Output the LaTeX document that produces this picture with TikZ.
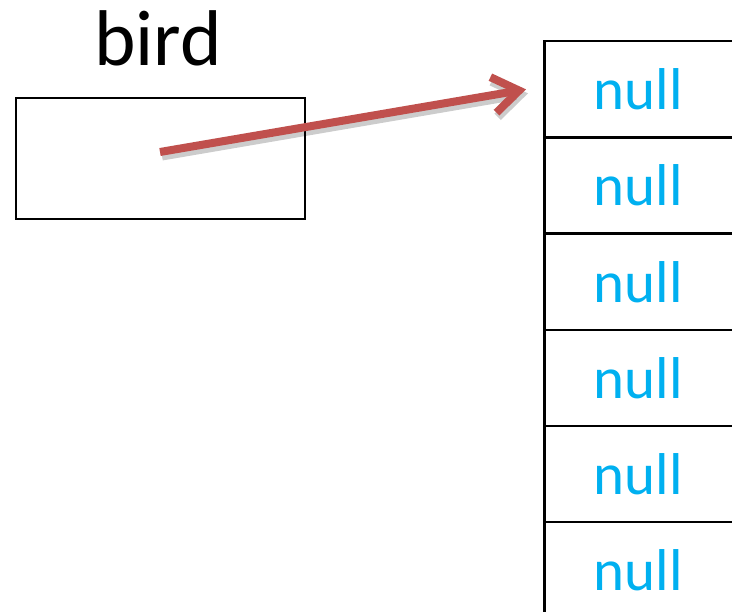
\documentclass[tikz,border=0pt]{standalone}
\usepackage{fontspec}
\setmainfont{Carlito}
\usetikzlibrary{arrows.meta}
\definecolor{nullblue}{HTML}{00B0F0}
\definecolor{arrowred}{HTML}{C0504D}
\tikzset{
  varbox/.style={draw=black, line width=2.3pt, minimum width=289pt, minimum height=121pt, inner sep=0pt, anchor=north west},
  cell/.style={draw=black, line width=2.5pt, minimum width=220pt, minimum height=96.2pt, inner sep=0pt, anchor=north west},
  nulltext/.style={text=nullblue, font=\fontsize{59}{59}\selectfont, inner sep=0pt},
  labeltext/.style={font=\fontsize{79}{79}\selectfont, inner sep=0pt},
  refarrow/.style={draw=arrowred, line width=8pt, -{Straight Barb[length=26pt, width=36pt, line width=8pt]}},
  refshadow/.style={draw=black, opacity=0.2, line width=9pt, -{Straight Barb[length=26pt, width=36pt, line width=9pt]}}
}
\begin{document}
\begin{tikzpicture}[x=1pt, y=-1pt]
\path[use as bounding box, clip] (0,0) rectangle (732,612);
\fill[white] (0,0) rectangle (732,612);
\node[labeltext] (lbl) at (158,38) {bird};
\node[varbox] (bird) at (15,97) {};
\foreach \k in {0,...,5} {
  \node[cell] (c\k) at (543,{40+96.2*\k}) {};
  \node[nulltext] (n\k) at ([xshift=-16pt]c\k.center) {null};
}
\coordinate (s) at (160,152);
\coordinate (t) at ([xshift=-17pt]c0.west);
\coordinate (ss) at ([xshift=2pt,yshift=-4pt]s);
\coordinate (ts) at ([xshift=2pt,yshift=-4pt]t);
\draw[refshadow] (ss) -- (ts);
\draw[refarrow] (s) -- (t);
\end{tikzpicture}
\end{document}
